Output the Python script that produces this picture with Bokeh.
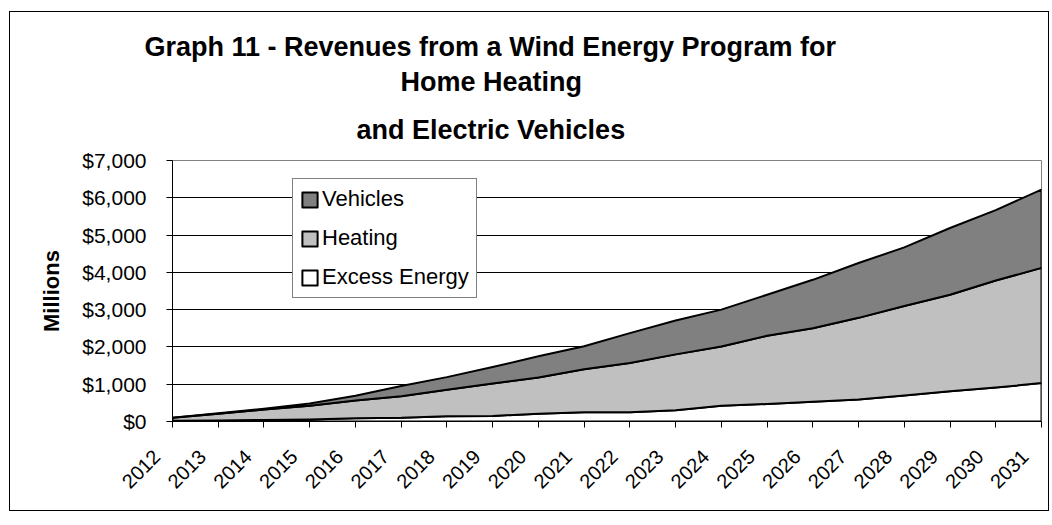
import math
import numpy as np
from bokeh.plotting import figure
from bokeh.models import (Legend, LegendItem, FixedTicker, Title, CustomJSTickFormatter,
                          NumeralTickFormatter, Range1d)
from bokeh.embed import file_html
from bokeh.resources import INLINE

# ---- data (millions of dollars) ----
years = list(range(2012, 2032))
excess_energy = [20, 30, 40, 55, 90, 100, 140, 150, 210, 250,
                 250, 300, 420, 470, 530, 590, 700, 810, 910, 1030]
heating = [80, 180, 280, 365, 470, 580, 710, 870, 970, 1150,
           1320, 1500, 1590, 1830, 1970, 2190, 2400, 2590, 2870, 3090]
vehicles = [0, 10, 20, 60, 130, 270, 340, 440, 570, 620,
            800, 910, 990, 1100, 1300, 1470, 1570, 1790, 1890, 2100]
series_names = ["Excess Energy", "Heating", "Vehicles"]
series_colors = ["#FFFFFF", "#C0C0C0", "#808080"]
y_ticks = [0, 1000, 2000, 3000, 4000, 5000, 6000, 7000]
title_lines = ["Graph 11 - Revenues from a Wind Energy Program for",
               "Home Heating",
               "and Electric Vehicles"]

FONT = "Liberation Sans"

p = figure(width=1040, height=500, output_backend="svg", toolbar_location=None,
           x_range=Range1d(years[0], years[-1]), y_range=Range1d(y_ticks[0], y_ticks[-1]),
           min_border_left=162, min_border_right=9, min_border_top=148,
           min_border_bottom=91)
p.styles = {"border": "1px solid #000000", "margin-left": "9px", "margin-top": "11px"}
p.background_fill_color = "white"
p.border_fill_color = "white"
p.outline_line_color = "#808080"
p.outline_line_width = 1

xax = p.below[0]
yax = p.left[0]

# title: three lines, each centred about the same point left of the plot centre
def style_title(t, standoff, offset):
    t.align = "left"
    t.offset = offset
    t.text_font = FONT
    t.text_font_style = "bold"
    t.text_font_size = "27px"
    t.text_color = "black"
    t.standoff = standoff

p.title.text = title_lines[0]
style_title(p.title, 5.3, -28)
t3 = Title(text=title_lines[2])
style_title(t3, 31.6, 184)
p.add_layout(t3, "above")
t2 = Title(text=title_lines[1])
style_title(t2, 0, 228)
p.add_layout(t2, "above")

# stacked areas
base = np.zeros(len(years))
rends = {}
for name, vals, color in zip(series_names, [excess_energy, heating, vehicles], series_colors):
    top = base + np.array(vals, dtype=float)
    xs = years + years[::-1]
    ys = list(top) + list(base[::-1])
    rends[name] = p.patch(xs, ys, fill_color=color, line_color="black",
                          line_width=2, line_join="round")
    base = top

# grid
p.xgrid.visible = False
p.ygrid.ticker = FixedTicker(ticks=y_ticks)
p.ygrid.grid_line_color = "black"
p.ygrid.grid_line_width = 1

# y axis
yax.ticker = FixedTicker(ticks=y_ticks)
yax.formatter = NumeralTickFormatter(format="$0,0")
yax.axis_label = "Millions"
yax.axis_label_text_font = FONT
yax.axis_label_text_font_style = "bold"
yax.axis_label_text_font_size = "22px"
yax.axis_label_text_color = "black"
yax.axis_label_standoff = 15
yax.major_label_standoff = 20
yax.major_label_text_font_size = "21px"

# x axis: rotated year labels; trailing no-break spaces set them back from the tick, as Excel does
xax.ticker = FixedTicker(ticks=years)
xax.formatter = CustomJSTickFormatter(code="return tick.toFixed(0) + '\\u00a0\\u00a0\\u00a0\\u00a0'")
xax.major_label_orientation = math.pi / 4
xax.major_label_standoff = 10
xax.major_label_text_font_size = "20px"

for ax in (xax, yax):
    ax.axis_line_color = "black"
    ax.axis_line_width = 1
    ax.major_tick_line_color = "black"
    ax.major_tick_out = 6
    ax.major_tick_in = 0
    ax.minor_tick_line_color = None
    ax.major_label_text_font = FONT
    ax.major_label_text_color = "black"

# legend
legend = Legend(
    items=[LegendItem(label=n, renderers=[rends[n]]) for n in ["Vehicles", "Heating", "Excess Energy"]],
    location=(120, 123), orientation="vertical", padding=7, spacing=13, margin=0,
    glyph_width=19, glyph_height=19, label_standoff=3, label_height=26,
    label_text_font=FONT, label_text_font_size="22px", label_text_color="black",
    border_line_color="black", border_line_width=1,
    background_fill_color="white", background_fill_alpha=1.0)
p.add_layout(legend)

with open("out.html", "w") as f:
    f.write(file_html(p, INLINE))
